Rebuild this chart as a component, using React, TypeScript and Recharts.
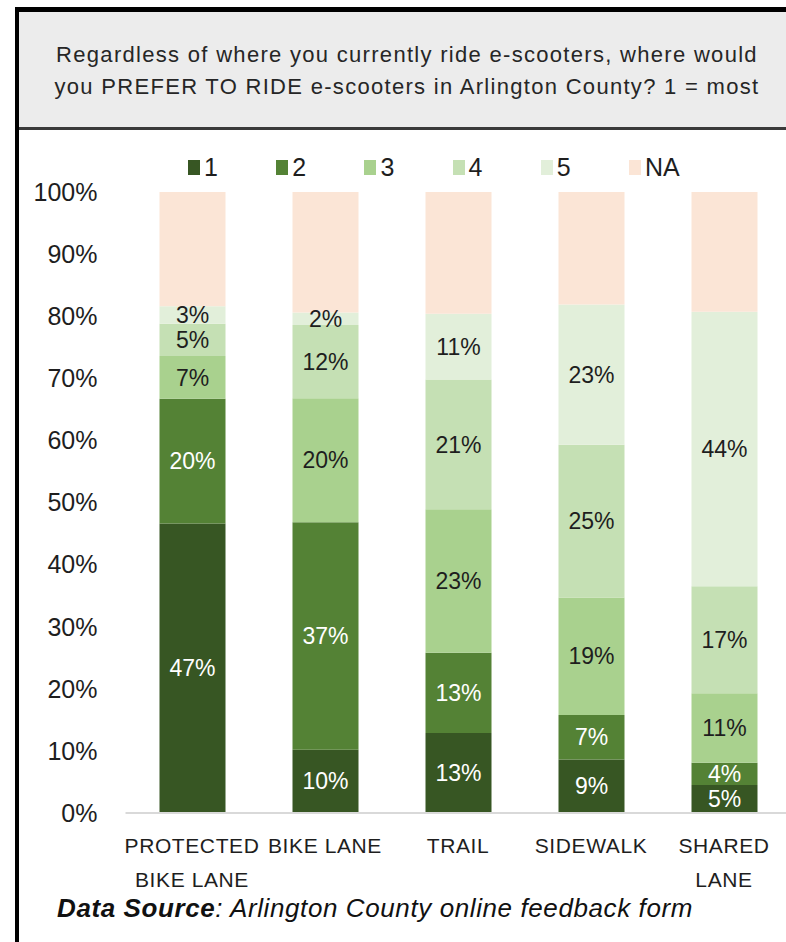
import { BarChart, Bar, XAxis, YAxis, LabelList } from 'recharts'

const categories = ['PROTECTED BIKE LANE', 'BIKE LANE', 'TRAIL', 'SIDEWALK', 'SHARED LANE']
const tickLines = [['PROTECTED', 'BIKE LANE'], ['BIKE LANE'], ['TRAIL'], ['SIDEWALK'], ['SHARED', 'LANE']]

const rank1 = [46.6, 10.2, 12.9, 8.6, 4.5]
const rank2 = [20.1, 36.6, 12.9, 7.2, 3.6]
const rank3 = [6.9, 20.0, 23.1, 18.9, 11.2]
const rank4 = [5.2, 11.8, 20.9, 24.6, 17.2]
const rank5 = [2.8, 2.0, 10.6, 22.6, 44.2]
const rankNA = [18.4, 19.4, 19.6, 18.1, 19.3]

const yTicks = [0, 10, 20, 30, 40, 50, 60, 70, 80, 90, 100]

const series = [
  { key: 'r1', name: '1', values: rank1, color: '#375623', text: '#ffffff', label: true },
  { key: 'r2', name: '2', values: rank2, color: '#548235', text: '#ffffff', label: true },
  { key: 'r3', name: '3', values: rank3, color: '#a9d18e', text: '#1e1e1e', label: true },
  { key: 'r4', name: '4', values: rank4, color: '#c5e0b4', text: '#1e1e1e', label: true },
  { key: 'r5', name: '5', values: rank5, color: '#e2efda', text: '#1e1e1e', label: true },
  { key: 'na', name: 'NA', values: rankNA, color: '#fbe5d6', text: '#1e1e1e', label: false },
]

const data = categories.map((c, i) => {
  const row: Record<string, number | string> = { name: c, idx: i }
  series.forEach((s) => (row[s.key] = s.values[i]))
  return row
})

const font = '"Liberation Sans", Arial, sans-serif'

const XTick = (props: any) => {
  const { x, y, payload } = props
  const lines = tickLines[payload.index] ?? [String(payload.value)]
  return (
    <text x={x} y={y} textAnchor="middle" fontSize={21} fill="#1e1e1e" fontFamily={font} letterSpacing={0.6}>
      {lines.map((l, i) => (
        <tspan key={i} x={x} dy={i === 0 ? 40 : 34}>
          {l}
        </tspan>
      ))}
    </text>
  )
}

export default function App() {
  return (
    <div
      style={{
        position: 'absolute',
        left: 0,
        top: 0,
        width: 786,
        height: 942,
        overflow: 'hidden',
        background: '#fff',
        fontFamily: font,
      }}
    >
      <div
        style={{
          position: 'absolute',
          left: 15,
          top: 7,
          width: 820,
          height: 980,
          borderLeft: '4px solid #000',
          borderTop: '5px solid #000',
        }}
      />
      <div
        style={{
          position: 'absolute',
          left: 19,
          top: 12,
          width: 820,
          height: 115,
          background: '#ececec',
          borderBottom: '3px solid #3a3a3a',
        }}
      />
      <div
        style={{
          position: 'absolute',
          left: 0,
          top: 39,
          width: 814,
          textAlign: 'center',
          fontSize: 22,
          lineHeight: '32px',
          letterSpacing: 1.3,
          color: '#262626',
          whiteSpace: 'nowrap',
        }}
      >
        Regardless of where you currently ride e-scooters, where would
        <br />
        you PREFER TO RIDE e-scooters in Arlington County? 1 = most
      </div>

      <div style={{ position: 'absolute', left: 0, top: 151, height: 32 }}>
        {series.map((s, i) => (
          <div
            key={s.key}
            style={{
              position: 'absolute',
              left: 188 + i * 88.2,
              top: 0,
              display: 'flex',
              alignItems: 'center',
              height: 32,
              whiteSpace: 'nowrap',
            }}
          >
            <span style={{ width: 12, height: 15, background: s.color, display: 'inline-block', marginRight: 4 }} />
            <span style={{ fontSize: 25, color: '#1e1e1e' }}>{s.name}</span>
          </div>
        ))}
      </div>

      <div style={{ position: 'absolute', left: 0, top: 0 }}>
        <BarChart
          width={800}
          height={942}
          data={data}
          margin={{ top: 192, right: 9.5, bottom: 49, left: 25.5 }}
          barSize={66}
        >
          <XAxis
            dataKey="name"
            height={80}
            interval={0}
            tickLine={false}
            tickSize={0}
            tickMargin={0}
            axisLine={{ stroke: '#d9d9d9', strokeWidth: 2 }}
            tick={<XTick />}
          />
          <YAxis
            width={100}
            domain={[0, 100]}
            ticks={yTicks}
            interval={0}
            axisLine={false}
            tickLine={false}
            tickSize={0}
            tickMargin={28}
            tickFormatter={(v) => `${v}%`}
            tick={{ fontSize: 25, fill: '#1e1e1e', fontFamily: font }}
          />
          {series.map((s) => (
            <Bar key={s.key} dataKey={s.key} name={s.name} stackId="a" fill={s.color} isAnimationActive={false}>
              {s.label && (
                <LabelList
                  dataKey={s.key}
                  position="center"
                  formatter={(v: any) => `${Math.round(Number(v))}%`}
                  style={{ fontSize: 23, fill: s.text, fontFamily: font }}
                />
              )}
            </Bar>
          ))}
        </BarChart>
      </div>

      <div
        style={{
          position: 'absolute',
          left: 57,
          top: 893,
          fontSize: 26,
          lineHeight: '30px',
          fontStyle: 'italic',
          letterSpacing: 0.6,
          color: '#111',
          whiteSpace: 'nowrap',
        }}
      >
        <b>Data Source</b>: Arlington County online feedback form
      </div>
    </div>
  )
}
